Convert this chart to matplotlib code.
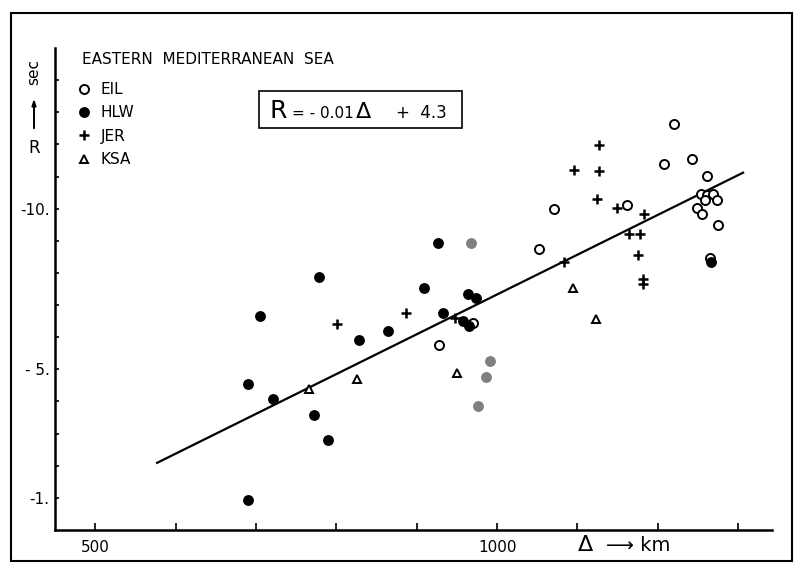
import matplotlib
matplotlib.use("Agg")
import matplotlib.pyplot as plt
from matplotlib.patches import Rectangle

# distance (km) and R value
eil_dist = [1220, 1243, 1208, 1261, 1254, 1261, 1269, 1259, 1274, 1249, 1255, 1275,
            1162, 1071, 1052, 928, 970, 1265]
eil_r = [12.62, 11.56, 11.40, 11.03, 10.47, 10.44, 10.47, 10.28, 10.28, 10.03, 9.84, 9.50,
         10.12, 10.00, 8.75, 5.76, 6.45, 8.47]

hlw_dist = [927, 779, 909, 964, 974, 705, 933, 864, 828, 958, 965, 690, 721, 772, 790, 690, 1266]
hlw_r = [8.94, 7.88, 7.54, 7.35, 7.23, 6.67, 6.76, 6.20, 5.92, 6.51, 6.36, 4.55, 4.08, 3.58,
         2.80, 0.93, 8.35]

# faint (grey) HLW points
grey_dist = [968, 991, 986, 976]
grey_r = [8.94, 5.26, 4.77, 3.86]

jer_dist = [1127, 1096, 1127, 1124, 1149, 1183, 1164, 1178, 1175, 1182, 1182, 1083, 801, 887, 948]
jer_r = [11.99, 11.21, 11.18, 10.31, 10.03, 9.84, 9.22, 9.22, 8.57, 7.82, 7.66, 8.35, 6.42,
         6.76, 6.60]

ksa_dist = [766, 826, 950, 1095, 1123]
ksa_r = [4.39, 4.70, 4.89, 7.54, 6.57]

fit_dist = [577, 1306]
fit_r = [2.09, 11.12]

xticks = [500, 600, 700, 800, 900, 1000, 1100, 1200, 1300]
xlabels = ["500", "", "", "", "", "1000", "", "", ""]
yticks = list(range(1, 15))
ylabels = {1: "-1.", 5: "- 5.", 10: "-10."}

W, H = 795, 563


def px(x, y):
    # pixel position (from top-left) -> figure fraction
    return x / W, 1 - y / H


plt.rcParams["font.family"] = ["DejaVu Sans"]
fig = plt.figure(figsize=(W / 100, H / 100), dpi=100)
ax = fig.add_axes([55 / W, (H - 530) / H, (772 - 55) / W, (530 - 48) / H])

ax.plot(fit_dist, fit_r, color="black", lw=1.6, zorder=2)
ax.plot(eil_dist, eil_r, "o", ms=6.5, mfc="white", mec="black", mew=1.4, label="EIL", zorder=3)
ax.plot(hlw_dist, hlw_r, "o", ms=6.8, mfc="black", mec="black", label="HLW", zorder=3)
ax.plot(grey_dist, grey_r, "o", ms=6.8, mfc="#808080", mec="#808080", zorder=3)
ax.plot(jer_dist, jer_r, "+", ms=6.5, mec="black", mew=1.8, label="JER", zorder=3)
ax.plot(ksa_dist, ksa_r, "^", ms=5.5, mfc="white", mec="black", mew=1.4, label="KSA", zorder=3)

ax.set_xlim(450, 1342)
ax.set_ylim(0, 15)
for s in ["top", "right"]:
    ax.spines[s].set_visible(False)
for s in ["left", "bottom"]:
    ax.spines[s].set_linewidth(1.8)

ax.set_xticks(xticks)
ax.set_xticklabels(xlabels)
ax.set_yticks(yticks)
ax.set_yticklabels([ylabels.get(v, "") for v in yticks])
ax.tick_params(axis="x", direction="in", length=5, width=1.2, pad=7, labelsize=11)
ax.tick_params(axis="y", direction="in", length=3, width=1.2, pad=4, labelsize=11)

leg = ax.legend(loc="upper left", bbox_to_anchor=px(78, 82), bbox_transform=fig.transFigure,
                frameon=False, fontsize=11, numpoints=1, handlelength=0.8,
                handletextpad=0.7, labelspacing=0.55, borderpad=0, borderaxespad=0)

fig.text(*px(82, 60), "EASTERN  MEDITERRANEAN  SEA", fontsize=11, va="center", ha="left")

# equation box
fig.patches.append(Rectangle(px(259, 128), (462 - 259) / W, (128 - 91) / H,
                             transform=fig.transFigure, fill=False, ec="black", lw=1.2))
fig.text(*px(270, 118), "R", fontsize=18, va="baseline")
fig.text(*px(292, 118), "= - 0.01", fontsize=11, va="baseline")
fig.text(*px(356, 118), "Δ", fontsize=16, va="baseline")
fig.text(*px(396, 118), "+  4.3", fontsize=12, va="baseline")

# axis titles
fig.text(*px(578, 551), "Δ", fontsize=16, va="baseline")
fig.text(*px(606, 551), "⟶ km", fontsize=14, va="baseline")
fig.text(*px(34, 72), "sec", fontsize=11, rotation=90, ha="center", va="center")
fig.text(*px(34, 148), "R", fontsize=12, ha="center", va="center")
ax.annotate("", xy=px(34, 96), xytext=px(34, 131), xycoords="figure fraction",
            textcoords="figure fraction",
            arrowprops=dict(arrowstyle="-|>,head_length=0.35,head_width=0.12", lw=1.4, color="black"))

# outer border of the figure
fig.patches.append(Rectangle(px(11, 561), (792 - 11) / W, (561 - 13) / H,
                             transform=fig.transFigure, fill=False, ec="black", lw=1.5))

fig.savefig("out.png", dpi=100)
